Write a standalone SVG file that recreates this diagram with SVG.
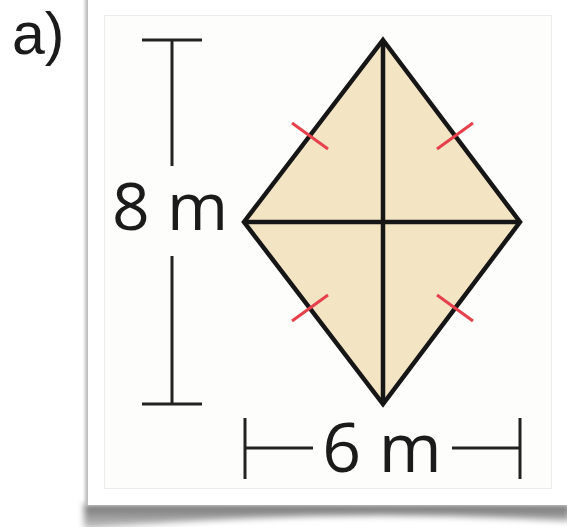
<svg xmlns="http://www.w3.org/2000/svg" width="567" height="527" viewBox="0 0 567 527">
  <style>
    .lbl { font-family: "Open Sans", "Liberation Sans", sans-serif; fill: #1b1b1b; }
    .dim { stroke: #222; stroke-width: 3; fill: none; stroke-linecap: butt; }
    .edge { stroke: #161616; stroke-width: 4.5; fill: none; stroke-linejoin: miter; }
    .tick { stroke: #E5404C; stroke-width: 3; fill: none; }
  </style>
  <defs>
    <filter id="blur" x="-10%" y="-50%" width="120%" height="200%">
      <feGaussianBlur stdDeviation="3"/>
    </filter>
    <filter id="blur2" x="-10%" y="-10%" width="120%" height="120%">
      <feGaussianBlur stdDeviation="1.5"/>
    </filter>
    <linearGradient id="sh" x1="0" y1="0" x2="0" y2="1">
      <stop offset="0" stop-color="#6f6f6f"/>
      <stop offset="1" stop-color="#c8c8c8"/>
    </linearGradient>
  </defs>
  <rect width="567" height="527" fill="#ffffff"/>

  <g id="card">
    <path d="M84,504 L570,504 L570,521 Q330,507 84,529 Z" fill="url(#sh)" filter="url(#blur)"/>
    <rect x="85" y="-6" width="490" height="511" fill="#bdbdbd" filter="url(#blur2)"/>
    <rect x="88" y="-6" width="490" height="511" fill="#ffffff"/>
    <rect x="104.5" y="15.5" width="447" height="473" fill="#fdfdfb" stroke="#ececea" stroke-width="1"/>
  </g>

  <g id="label-a">
    <text x="12" y="54" font-size="59" font-family="Liberation Sans, Arial, sans-serif" fill="#1b1b1b">a)</text>
  </g>

  <g id="rhombus">
    <polygon points="383,40 520,222 383,404 244,222" fill="#F3E4C4"/>
    <line class="edge" x1="383" y1="40" x2="383" y2="404"/>
    <line class="edge" x1="244" y1="222" x2="520" y2="222"/>
    <polygon class="edge" points="383,40 520,222 383,404 244,222"/>
  </g>

  <g id="ticks">
    <line class="tick" x1="292" y1="123" x2="328" y2="149"/>
    <line class="tick" x1="437" y1="149" x2="473" y2="123"/>
    <line class="tick" x1="292" y1="321" x2="328" y2="295"/>
    <line class="tick" x1="437" y1="295" x2="473" y2="321"/>
  </g>

  <g id="connectors">
    <g id="dim-height">
      <line class="dim" x1="142" y1="40" x2="202" y2="40"/>
      <line class="dim" x1="172" y1="40" x2="172" y2="166"/>
      <line class="dim" x1="172" y1="256" x2="172" y2="404"/>
      <line class="dim" x1="142" y1="404" x2="202" y2="404"/>
    </g>
    <g id="dim-width">
      <line class="dim" x1="245" y1="418" x2="245" y2="479"/>
      <line class="dim" x1="245" y1="448" x2="313" y2="448"/>
      <line class="dim" x1="452" y1="448" x2="520" y2="448"/>
      <line class="dim" x1="520" y1="418" x2="520" y2="479"/>
    </g>
  </g>

  <g id="label-8m">
    <text class="lbl" x="112" y="230" font-size="66">8 m</text>
  </g>
  <g id="label-6m">
    <text class="lbl" x="382" y="472" font-size="68" text-anchor="middle">6 m</text>
  </g>
</svg>
